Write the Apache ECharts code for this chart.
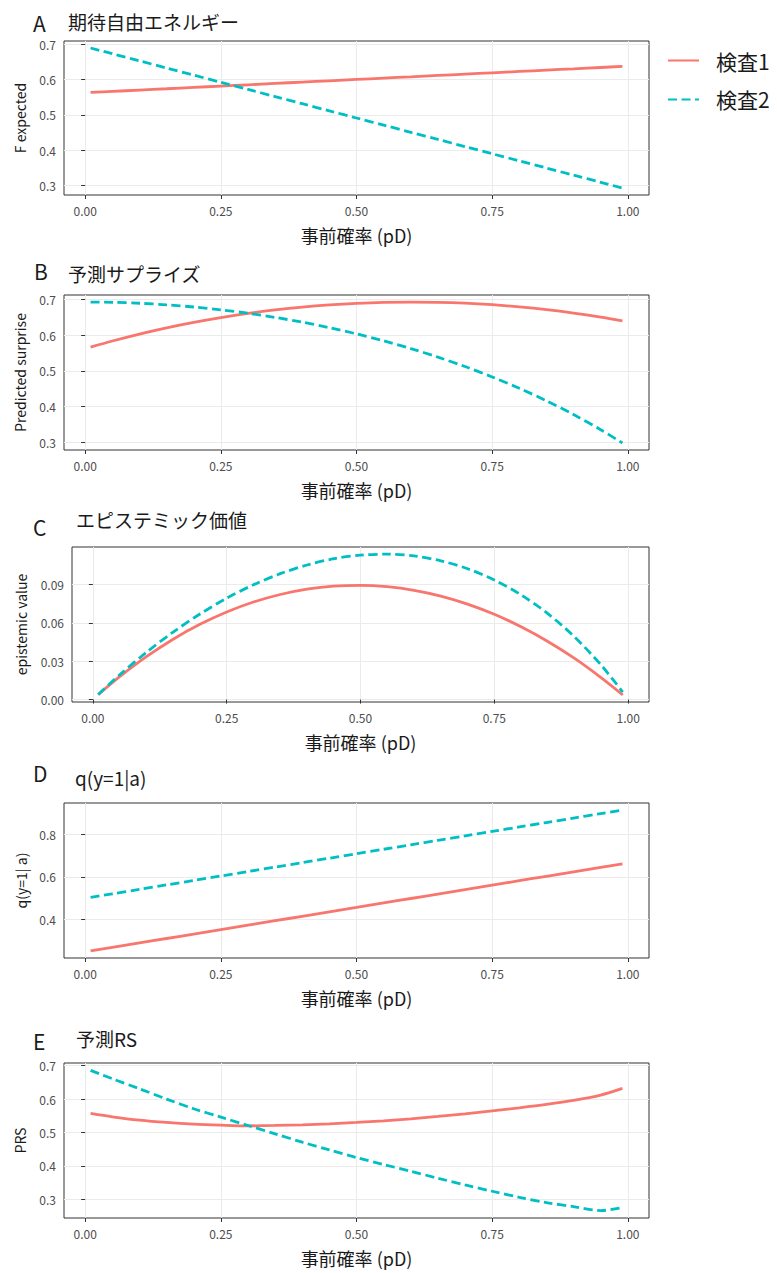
<!DOCTYPE html>
<html>
<head>
<meta charset="utf-8">
<script src="https://cdn.jsdelivr.net/npm/echarts@6/dist/echarts.min.js"></script>
<style>
  html, body { margin: 0; padding: 0; background: #fff; }
  #chart { width: 777px; height: 1273px; }
</style>
</head>
<body>
<div id="chart"></div>
<script>
// ---- data ----
const pD = [0.01, 0.05, 0.1, 0.15, 0.2, 0.25, 0.3, 0.35, 0.4, 0.45, 0.5, 0.55, 0.6, 0.65, 0.7, 0.75, 0.8, 0.85, 0.9, 0.95, 0.99];
const seriesNames = ['検査1', '検査2'];

// A: expected free energy
const fExp1 = [0.5631, 0.5661, 0.5699, 0.5736, 0.5774, 0.5812, 0.5849, 0.5887, 0.5925, 0.5962, 0.6000, 0.6038, 0.6075, 0.6113, 0.6151, 0.6188, 0.6226, 0.6264, 0.6301, 0.6339, 0.6369];
const fExp2 = [0.6891, 0.6729, 0.6527, 0.6324, 0.6122, 0.5920, 0.5717, 0.5515, 0.5313, 0.5110, 0.4908, 0.4706, 0.4503, 0.4301, 0.4098, 0.3896, 0.3694, 0.3491, 0.3289, 0.3087, 0.2925];
// B: predicted surprise
const surprise1 = [0.5669, 0.5840, 0.6035, 0.6209, 0.6363, 0.6497, 0.6613, 0.6710, 0.6790, 0.6851, 0.6895, 0.6922, 0.6931, 0.6924, 0.6899, 0.6856, 0.6796, 0.6719, 0.6623, 0.6509, 0.6405];
const surprise2 = [0.6931, 0.6923, 0.6897, 0.6853, 0.6792, 0.6714, 0.6617, 0.6501, 0.6367, 0.6213, 0.6039, 0.5844, 0.5628, 0.5388, 0.5124, 0.4833, 0.4514, 0.4164, 0.3779, 0.3355, 0.2983];
// C: epistemic value
const epist1 = [0.0038, 0.0179, 0.0336, 0.0473, 0.0589, 0.0686, 0.0764, 0.0823, 0.0865, 0.0889, 0.0895, 0.0884, 0.0856, 0.0811, 0.0748, 0.0668, 0.0570, 0.0455, 0.0322, 0.0170, 0.0036];
const epist2 = [0.0040, 0.0194, 0.0370, 0.0529, 0.0670, 0.0794, 0.0899, 0.0986, 0.1054, 0.1103, 0.1131, 0.1139, 0.1125, 0.1087, 0.1025, 0.0937, 0.0820, 0.0673, 0.0490, 0.0268, 0.0058];
// D: q(y=1|a)
const q1 = [0.2542, 0.2708, 0.2915, 0.3123, 0.3330, 0.3538, 0.3745, 0.3953, 0.4160, 0.4368, 0.4575, 0.4783, 0.4990, 0.5198, 0.5405, 0.5613, 0.5820, 0.6028, 0.6235, 0.6443, 0.6609];
const q2 = [0.5042, 0.5208, 0.5416, 0.5624, 0.5832, 0.6040, 0.6248, 0.6456, 0.6664, 0.6872, 0.7080, 0.7288, 0.7496, 0.7704, 0.7912, 0.8120, 0.8328, 0.8536, 0.8744, 0.8952, 0.9118];
// E: predicted RS
const prs1 = [0.557, 0.547, 0.537, 0.530, 0.525, 0.522, 0.520, 0.521, 0.523, 0.526, 0.530, 0.535, 0.541, 0.548, 0.556, 0.565, 0.574, 0.584, 0.596, 0.612, 0.632];
const prs2 = [0.686, 0.661, 0.631, 0.600, 0.571, 0.546, 0.521, 0.496, 0.471, 0.448, 0.425, 0.404, 0.384, 0.363, 0.343, 0.324, 0.306, 0.290, 0.278, 0.266, 0.275];

// ticks / labels
const xTicks = [0, 0.25, 0.5, 0.75, 1.0];
const yTicksA = [0.3, 0.4, 0.5, 0.6, 0.7];
const yTicksB = [0.3, 0.4, 0.5, 0.6, 0.7];
const yTicksC = [0, 0.03, 0.06, 0.09];
const yTicksD = [0.4, 0.6, 0.8];
const yTicksE = [0.3, 0.4, 0.5, 0.6, 0.7];
const panelLetters = ['A', 'B', 'C', 'D', 'E'];
const panelTitles = ['期待自由エネルギー', '予測サプライズ', 'エピステミック価値', 'q(y=1|a)', '予測RS'];
const yNames = ['F expected', 'Predicted surprise', 'epistemic value', 'q(y=1| a)', 'PRS'];
const xName = '事前確率 (pD)';

// ---- layout / style ----
const FONT = "'Noto Sans CJK JP', 'Noto Sans', sans-serif";
const COLORS = ['#F8766D', '#00BFC4'];
const panels = [
  { grid: { left: 64, top: 41, width: 585, height: 154 }, y: [0.2727, 0.7089], ticks: yTicksA, dec: 1, nameGap: 37, s: [fExp1, fExp2],
    letter: { left: 33, top: 12 }, title: { left: 68, top: 12 } },
  { grid: { left: 64, top: 295, width: 585, height: 155 }, y: [0.2786, 0.7128], ticks: yTicksB, dec: 1, nameGap: 37, s: [surprise1, surprise2],
    letter: { left: 34, top: 260 }, title: { left: 68, top: 264 } },
  { grid: { left: 72, top: 547, width: 577, height: 155 }, y: [-0.0019, 0.1195], ticks: yTicksC, dec: 2, nameGap: 44, s: [epist1, epist2],
    letter: { left: 33, top: 516 }, title: { left: 76, top: 510 } },
  { grid: { left: 64, top: 803, width: 585, height: 155 }, y: [0.2213, 0.9447], ticks: yTicksD, dec: 1, nameGap: 34, s: [q1, q2],
    letter: { left: 33, top: 762 }, title: { left: 75, top: 768 } },
  { grid: { left: 64, top: 1063, width: 585, height: 155 }, y: [0.2439, 0.7081], ticks: yTicksE, dec: 1, nameGap: 37, s: [prs1, prs2],
    letter: { left: 33, top: 1030 }, title: { left: 76, top: 1029 } }
];

const grids = [], xAxes = [], yAxes = [], series = [], titles = [];
panels.forEach((p, i) => {
  grids.push(Object.assign({ show: true, borderColor: '#333333', borderWidth: 1, backgroundColor: '#ffffff' }, p.grid));
  xAxes.push({
    gridIndex: i, type: 'value', min: -0.039, max: 1.039,
    axisLine: { show: false },
    axisTick: { show: true, length: 4, lineStyle: { color: '#333333', width: 1 }, customValues: xTicks },
    axisLabel: { customValues: xTicks, formatter: v => Number(v).toFixed(2), color: '#4D4D4D', fontSize: 12, margin: 9, fontFamily: FONT },
    splitLine: { show: true, lineStyle: { color: '#EBEBEB', width: 1 } },
    name: xName, nameLocation: 'middle', nameGap: 31,
    nameTextStyle: { fontSize: 18, color: '#1a1a1a', fontFamily: FONT }
  });
  yAxes.push({
    gridIndex: i, type: 'value', min: p.y[0], max: p.y[1],
    axisLine: { show: false },
    axisTick: { show: true, length: 4, lineStyle: { color: '#333333', width: 1 }, customValues: p.ticks },
    axisLabel: { customValues: p.ticks, formatter: v => Number(v).toFixed(p.dec), color: '#4D4D4D', fontSize: 12, margin: 8, fontFamily: FONT },
    splitLine: { show: true, lineStyle: { color: '#EBEBEB', width: 1 } },
    name: yNames[i], nameLocation: 'middle', nameGap: p.nameGap, nameRotate: 90,
    nameTextStyle: { fontSize: 14, color: '#1a1a1a', fontFamily: FONT }
  });
  p.s.forEach((vals, k) => {
    series.push({
      type: 'line', name: seriesNames[k], xAxisIndex: i, yAxisIndex: i,
      data: pD.map((x, j) => [x, vals[j]]),
      showSymbol: false, symbol: 'none', smooth: 0.3, clip: true,
      lineStyle: { color: COLORS[k], width: 2.8, type: k === 0 ? 'solid' : [9, 4.5] },
      itemStyle: { color: COLORS[k] },
      z: k === 0 ? 3 : 4
    });
  });
  titles.push({ text: panelLetters[i], left: p.letter.left, top: p.letter.top, padding: 0,
    textStyle: { fontSize: 21, fontWeight: 'normal', color: '#1a1a1a', fontFamily: FONT } });
  titles.push({ text: panelTitles[i], left: p.title.left, top: p.title.top, padding: 0,
    textStyle: { fontSize: 19, fontWeight: 'normal', color: '#1a1a1a', fontFamily: FONT } });
});

const chart = echarts.init(document.getElementById('chart'), null, { renderer: 'svg', width: 777, height: 1273 });
chart.setOption({
  animation: false,
  backgroundColor: '#ffffff',
  textStyle: { fontFamily: FONT },
  title: titles,
  legend: {
    data: seriesNames, orient: 'vertical', left: 667, top: 50, padding: 0,
    itemWidth: 31, itemHeight: 14, itemGap: 18,
    itemStyle: { opacity: 0 },
    textStyle: { fontSize: 21, color: '#1a1a1a', fontFamily: FONT, padding: [0, 0, 0, 12] }
  },
  grid: grids,
  xAxis: xAxes,
  yAxis: yAxes,
  series: series
});
</script>
</body>
</html>
